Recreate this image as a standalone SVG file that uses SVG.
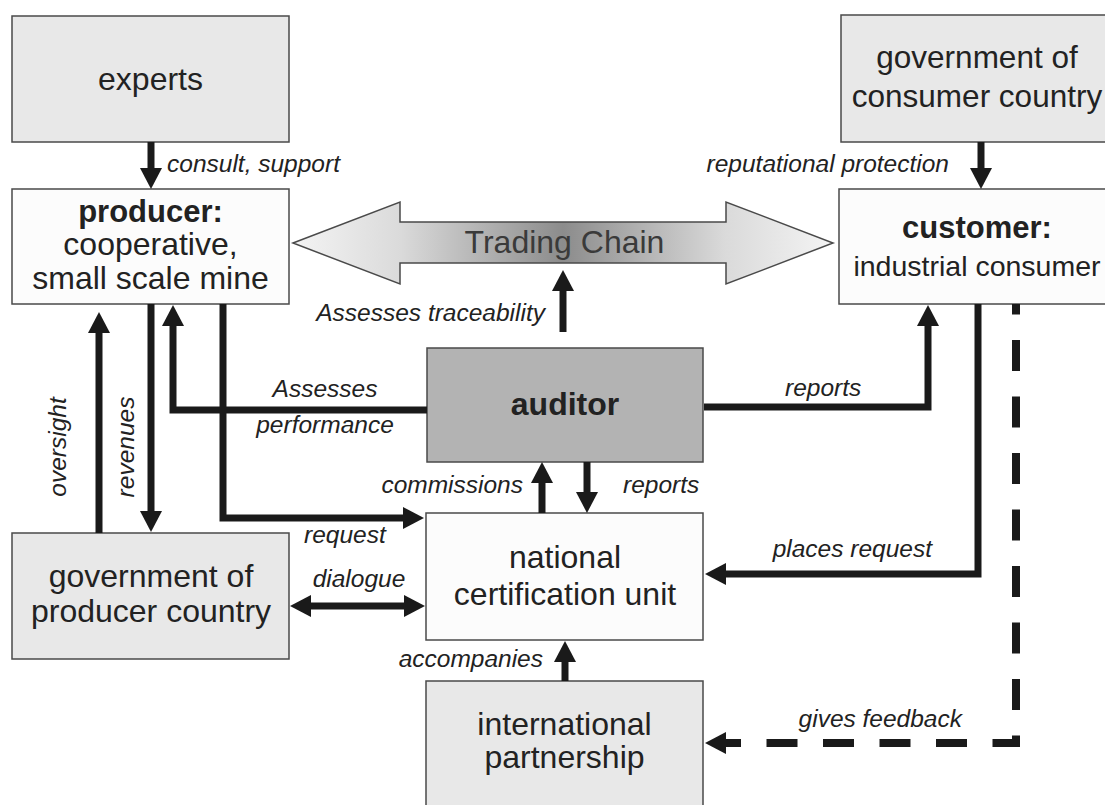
<svg xmlns="http://www.w3.org/2000/svg" width="1105" height="805" viewBox="0 0 1105 805">
<defs>
<style>
.box{stroke:#4a4a4a;stroke-width:1.5}
.lg{fill:#e8e8e8}
.wh{fill:#fcfcfc}
.dk{fill:#b3b3b3}
.nt{font-family:"Liberation Sans",Arial,sans-serif;font-size:32px;fill:#222;text-anchor:middle}
.b{font-weight:bold}
.lb{font-family:"Liberation Sans",Arial,sans-serif;font-size:24.5px;font-style:italic;fill:#222}
.c{fill:none;stroke:#1a1a1a;stroke-width:7;marker-end:url(#ah)}
</style>
<marker id="ah" markerUnits="userSpaceOnUse" markerWidth="22" markerHeight="22" refX="2" refY="11" orient="auto-start-reverse" overflow="visible">
<path d="M0,0 L21,11 L0,22 z" fill="#1a1a1a"/>
</marker>
<linearGradient id="tg" x1="293" y1="0" x2="833" y2="0" gradientUnits="userSpaceOnUse">
<stop offset="0" stop-color="#f4f4f4"/>
<stop offset="0.2" stop-color="#dadada"/>
<stop offset="0.5" stop-color="#8c8c8c"/>
<stop offset="0.8" stop-color="#dadada"/>
<stop offset="1" stop-color="#f4f4f4"/>
</linearGradient>
</defs>
<rect width="1105" height="805" fill="#ffffff"/>

<g id="experts">
<rect class="box lg" x="12" y="16" width="277" height="126"/>
<text class="nt" x="150.5" y="90">experts</text>
</g>

<g id="producer">
<rect class="box wh" x="12" y="189" width="277" height="115"/>
<text class="nt b" x="150.5" y="222" style="font-size:31px">producer:</text>
<text class="nt" x="150.5" y="255">cooperative,</text>
<text class="nt" x="150.5" y="289">small scale mine</text>
</g>

<g id="gov-consumer">
<rect class="box lg" x="841" y="15" width="280" height="127"/>
<text class="nt" x="977" y="68" style="font-size:31.5px">government of</text>
<text class="nt" x="977" y="107" style="font-size:31.5px">consumer country</text>
</g>

<g id="customer">
<rect class="box wh" x="839" y="189" width="282" height="115"/>
<text class="nt b" x="977" y="238" style="font-size:31px">customer:</text>
<text class="nt" x="977" y="276" style="font-size:28.5px">industrial consumer</text>
</g>

<g id="trading-chain">
<polygon points="293,243 400,202 400,222 726,222 726,202 833,243 726,284 726,263 400,263 400,284" fill="url(#tg)" stroke="#4a4a4a" stroke-width="1.5"/>
<text class="nt" x="564.5" y="253" style="fill:#3a3a3a">Trading Chain</text>
</g>

<g id="auditor">
<rect class="box dk" x="427" y="348" width="276" height="114"/>
<text class="nt b" x="565" y="415">auditor</text>
</g>

<g id="national-certification-unit">
<rect class="box wh" x="426" y="513" width="277" height="127"/>
<text class="nt" x="565" y="568">national</text>
<text class="nt" x="565" y="605">certification unit</text>
</g>

<g id="gov-producer">
<rect class="box lg" x="12" y="533" width="277" height="126"/>
<text class="nt" x="151" y="587">government of</text>
<text class="nt" x="151" y="622">producer country</text>
</g>

<g id="international-partnership">
<rect class="box lg" x="426" y="681" width="277" height="130"/>
<text class="nt" x="564.5" y="735">international</text>
<text class="nt" x="564.5" y="768">partnership</text>
</g>

<g id="connectors">
<path class="c" d="M151,142 V170"/>
<path class="c" d="M981,142 V170"/>
<path class="c" d="M99,533 V331"/>
<path class="c" d="M151,304 V513"/>
<path class="c" d="M427,410 H173 V324"/>
<path class="c" d="M223,304 V518 H405"/>
<path class="c" d="M309,606 H406" style="marker-start:url(#ah)"/>
<path class="c" d="M542,513 V481"/>
<path class="c" d="M587,462 V494"/>
<path class="c" d="M704,407 H928 V324"/>
<path class="c" d="M978,304 V574 H724"/>
<path class="c" d="M565,681 V660"/>
<path class="c" d="M563,332 V289"/>
<path class="c" d="M1016,304 V743 H724" style="stroke-width:8;stroke-dasharray:31 25.5;stroke-dashoffset:20.5"/>
</g>

<g id="labels">
<text class="lb" x="167" y="172">consult, support</text>
<text class="lb" x="949" y="172" text-anchor="end">reputational protection</text>
<text class="lb" x="545" y="321" text-anchor="end">Assesses traceability</text>
<text class="lb" x="325" y="397" text-anchor="middle">Assesses</text>
<text class="lb" x="325" y="433" text-anchor="middle">performance</text>
<text class="lb" text-anchor="middle" transform="translate(66,447) rotate(-90)">oversight</text>
<text class="lb" text-anchor="middle" transform="translate(134,447) rotate(-90)">revenues</text>
<text class="lb" x="304" y="543">request</text>
<text class="lb" x="359" y="587" text-anchor="middle">dialogue</text>
<text class="lb" x="523" y="493" text-anchor="end">commissions</text>
<text class="lb" x="623" y="493">reports</text>
<text class="lb" x="785" y="396">reports</text>
<text class="lb" x="932" y="557" text-anchor="end">places request</text>
<text class="lb" x="543" y="667" text-anchor="end">accompanies</text>
<text class="lb" x="962" y="727" text-anchor="end">gives feedback</text>
</g>
</svg>
